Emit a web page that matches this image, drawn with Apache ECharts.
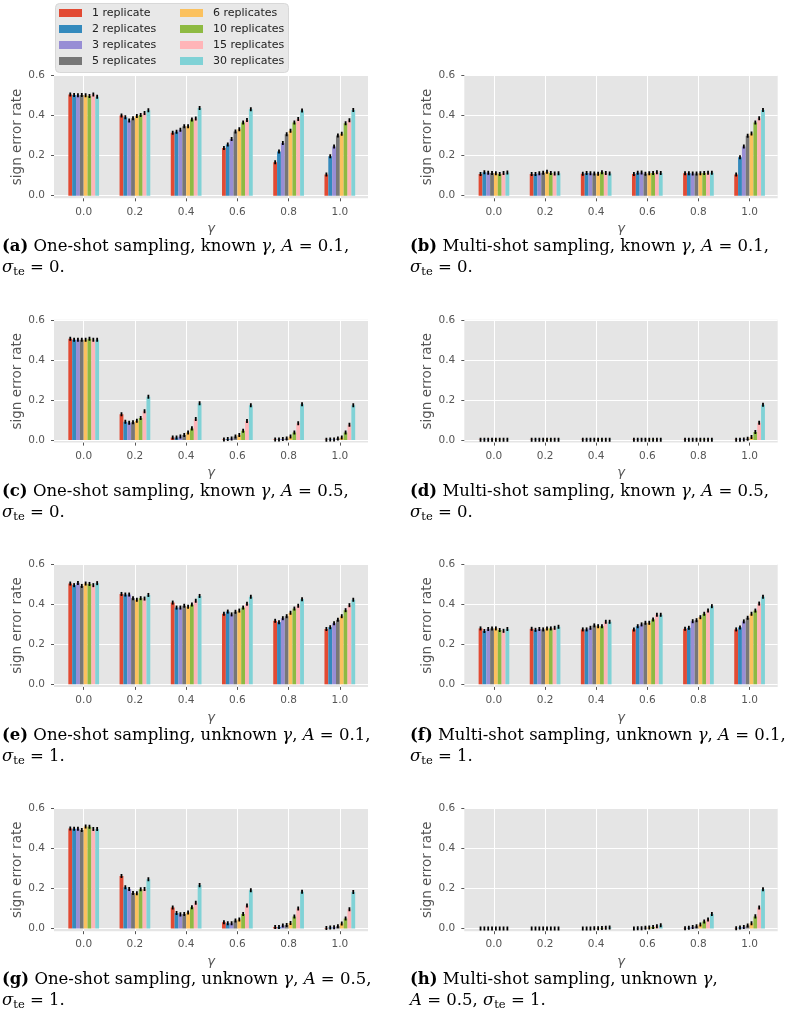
<!DOCTYPE html>
<html><head><meta charset="utf-8">
<script src="https://cdn.jsdelivr.net/npm/echarts@6/dist/echarts.min.js"></script>
<style>html,body{margin:0;padding:0;background:#fff}#c{width:794px;height:1023px}</style>
</head><body><div id="c"></div>
<script>
const gammas = [0.0, 0.2, 0.4, 0.6, 0.8, 1.0];
const replicateLabels = ['1 replicate','2 replicates','3 replicates','5 replicates','6 replicates','10 replicates','15 replicates','30 replicates'];
const xTicks = [0.0, 0.2, 0.4, 0.6, 0.8, 1.0];
const yTicks = [0.0, 0.2, 0.4, 0.6];
const errHalf = 0.01;

// each panel: one row per gamma, 8 values (replicates 1,2,3,5,6,10,15,30)
const dataA = [
  [0.505,0.503,0.502,0.503,0.502,0.498,0.505,0.494],
  [0.400,0.392,0.375,0.387,0.398,0.403,0.413,0.426],
  [0.314,0.319,0.329,0.347,0.347,0.380,0.385,0.438],
  [0.238,0.256,0.283,0.320,0.332,0.365,0.378,0.431],
  [0.167,0.221,0.263,0.307,0.324,0.365,0.383,0.425],
  [0.106,0.197,0.246,0.300,0.309,0.362,0.377,0.428]];
const dataB = [
  [0.108,0.117,0.114,0.113,0.112,0.108,0.113,0.116],
  [0.108,0.108,0.112,0.114,0.119,0.113,0.111,0.112],
  [0.109,0.113,0.112,0.111,0.109,0.117,0.113,0.111],
  [0.108,0.115,0.116,0.109,0.112,0.113,0.117,0.113],
  [0.112,0.112,0.111,0.111,0.112,0.113,0.114,0.114],
  [0.106,0.192,0.246,0.299,0.310,0.365,0.387,0.428]];
const dataC = [
  [0.505,0.500,0.500,0.500,0.500,0.505,0.500,0.500],
  [0.128,0.091,0.086,0.088,0.096,0.110,0.144,0.216],
  [0.013,0.013,0.017,0.025,0.037,0.058,0.105,0.183],
  [0.003,0.005,0.008,0.017,0.025,0.046,0.095,0.174],
  [0.002,0.003,0.005,0.008,0.017,0.038,0.083,0.178],
  [0.001,0.002,0.003,0.008,0.013,0.038,0.076,0.173]];
const dataD = [
  [0.001,0.001,0.001,0.001,0.001,0.001,0.001,0.001],
  [0.001,0.001,0.001,0.001,0.001,0.001,0.001,0.001],
  [0.001,0.001,0.001,0.001,0.001,0.001,0.001,0.001],
  [0.001,0.001,0.001,0.001,0.001,0.001,0.001,0.001],
  [0.001,0.001,0.001,0.001,0.001,0.001,0.001,0.001],
  [0.001,0.001,0.002,0.006,0.015,0.040,0.086,0.176]];
const dataE = [
  [0.503,0.495,0.506,0.491,0.503,0.501,0.495,0.505],
  [0.451,0.448,0.448,0.430,0.422,0.430,0.428,0.446],
  [0.408,0.383,0.383,0.392,0.387,0.398,0.417,0.441],
  [0.352,0.363,0.349,0.362,0.368,0.383,0.402,0.437],
  [0.317,0.310,0.330,0.340,0.357,0.378,0.392,0.425],
  [0.276,0.285,0.305,0.322,0.340,0.370,0.395,0.422]];
const dataF = [
  [0.279,0.266,0.276,0.279,0.279,0.271,0.267,0.276],
  [0.277,0.272,0.276,0.274,0.279,0.279,0.282,0.287],
  [0.274,0.274,0.282,0.294,0.290,0.290,0.312,0.312],
  [0.274,0.290,0.299,0.307,0.307,0.324,0.347,0.347],
  [0.277,0.282,0.315,0.320,0.335,0.352,0.368,0.390],
  [0.274,0.284,0.314,0.332,0.352,0.368,0.403,0.437]];
const dataG = [
  [0.500,0.498,0.498,0.492,0.510,0.508,0.497,0.497],
  [0.262,0.206,0.198,0.178,0.176,0.196,0.198,0.246],
  [0.105,0.078,0.071,0.073,0.080,0.106,0.129,0.217],
  [0.032,0.027,0.027,0.041,0.046,0.073,0.115,0.191],
  [0.008,0.008,0.015,0.018,0.028,0.060,0.100,0.184],
  [0.003,0.005,0.007,0.012,0.025,0.051,0.096,0.183]];
const dataH = [
  [0.001,0.001,0.001,0.001,0.001,0.001,0.001,0.001],
  [0.001,0.001,0.001,0.001,0.001,0.001,0.001,0.001],
  [0.001,0.001,0.001,0.002,0.002,0.003,0.004,0.006],
  [0.001,0.002,0.002,0.004,0.006,0.008,0.012,0.017],
  [0.002,0.004,0.008,0.012,0.020,0.035,0.046,0.073],
  [0.002,0.005,0.008,0.015,0.027,0.061,0.105,0.197]];

const panels = [dataA, dataB, dataC, dataD, dataE, dataF, dataG, dataH];
const captions = [
  ['{b|(a)}{n| One-shot sampling, known }{i|γ}{n|, }{i|A}{n| = 0.1,}', '{i|σ}{s|te}{n| = 0.}'],
  ['{b|(b)}{n| Multi-shot sampling, known }{i|γ}{n|, }{i|A}{n| = 0.1,}', '{i|σ}{s|te}{n| = 0.}'],
  ['{b|(c)}{n| One-shot sampling, known }{i|γ}{n|, }{i|A}{n| = 0.5,}', '{i|σ}{s|te}{n| = 0.}'],
  ['{b|(d)}{n| Multi-shot sampling, known }{i|γ}{n|, }{i|A}{n| = 0.5,}', '{i|σ}{s|te}{n| = 0.}'],
  ['{b|(e)}{n| One-shot sampling, unknown }{i|γ}{n|, }{i|A}{n| = 0.1,}', '{i|σ}{s|te}{n| = 1.}'],
  ['{b|(f)}{n| Multi-shot sampling, unknown }{i|γ}{n|, }{i|A}{n| = 0.1,}', '{i|σ}{s|te}{n| = 1.}'],
  ['{b|(g)}{n| One-shot sampling, unknown }{i|γ}{n|, }{i|A}{n| = 0.5,}', '{i|σ}{s|te}{n| = 1.}'],
  ['{b|(h)}{n| Multi-shot sampling, unknown }{i|γ}{n|,}', '{i|A}{n| = 0.5, }{i|σ}{s|te}{n| = 1.}']];

const colors = ['#E24A33','#348ABD','#988ED5','#777777','#FBC15E','#8EBA42','#FFB5B8','#80D2D6'];
const barW = 0.015;
const rowStep = 244.3;
const SANS = 'DejaVu Sans';
const SERIF = 'DejaVu Serif';

function renderBar(params, api) {
  const x = api.value(0), y = api.value(1), e = api.value(2);
  const a = api.coord([x - barW / 2, 0]);
  const b = api.coord([x + barW / 2, y]);
  const lo = api.coord([x, y - e]);
  const hi = api.coord([x, y + e]);
  return {
    type: 'group',
    children: [
      {type: 'rect', shape: {x: a[0], y: b[1], width: b[0] - a[0], height: a[1] - b[1]},
       style: {fill: api.visual('color')}},
      {type: 'line', shape: {x1: lo[0], y1: lo[1], x2: hi[0], y2: hi[1]},
       style: {stroke: '#000', lineWidth: 1.8}, z2: 10}
    ]
  };
}

const grids = [], xAxes = [], yAxes = [], series = [], graphics = [];
const FS = 16.5;
const rich = {
  b: {fontFamily: SERIF, fontSize: FS, fontWeight: 'bold', fill: '#000', lineHeight: 21},
  n: {fontFamily: SERIF, fontSize: FS, fill: '#000', lineHeight: 21},
  i: {fontFamily: SERIF, fontSize: FS, fontStyle: 'italic', fill: '#000', lineHeight: 21},
  s: {fontFamily: SERIF, fontSize: 11.5, fill: '#000', lineHeight: 12, verticalAlign: 'bottom'}
};

panels.forEach((pd, p) => {
  const col = p % 2, row = Math.floor(p / 2);
  grids.push({
    left: col ? 464.3 : 54, width: col ? 313.4 : 314,
    top: 75.5 + row * rowStep, height: 122.8,
    show: true, backgroundColor: '#E5E5E5', borderWidth: 0
  });
  xAxes.push({
    type: 'value', gridIndex: p, min: -0.116, max: 1.11,
    axisLine: {show: false, onZero: false},
    axisTick: {show: true, length: 3, customValues: xTicks, lineStyle: {color: '#555', width: 1}},
    axisLabel: {customValues: xTicks, formatter: v => Number(v).toFixed(1), fontSize: 10.5,
      fontFamily: SANS, color: '#555', margin: 8},
    splitLine: {show: true, lineStyle: {color: '#fff', width: 1}},
    name: 'γ', nameLocation: 'middle', nameGap: 24,
    nameTextStyle: {fontFamily: SANS, fontSize: 13, color: '#555', fontStyle: 'italic'}
  });
  yAxes.push({
    type: 'value', gridIndex: p, min: -0.013, max: 0.6,
    axisLine: {show: false, onZero: false},
    axisTick: {show: true, length: 3, customValues: yTicks, lineStyle: {color: '#555', width: 1}},
    axisLabel: {customValues: yTicks, formatter: v => Number(v).toFixed(1), fontSize: 10.5,
      fontFamily: SANS, color: '#555', margin: 9},
    splitLine: {show: true, lineStyle: {color: '#fff', width: 1}},
    name: 'sign error rate', nameLocation: 'middle', nameGap: 26,
    nameTextStyle: {fontFamily: SANS, fontSize: 13.5, color: '#555'}
  });
  replicateLabels.forEach((name, r) => {
    series.push({
      type: 'custom', name: name, xAxisIndex: p, yAxisIndex: p,
      itemStyle: {color: colors[r]},
      renderItem: renderBar, clip: true,
      encode: {x: 0, y: 1},
      data: gammas.map((g, gi) => [g + (r - 3.5) * barW, pd[gi][r], errHalf])
    });
  });
  const cx = col ? 410 : 2;
  graphics.push({type: 'text', left: cx, top: 238.5 + row * rowStep,
    style: {text: captions[p][0], rich: rich, fill: '#000'}});
  graphics.push({type: 'text', left: cx, top: 259.5 + row * rowStep,
    style: {text: captions[p][1], rich: rich, fill: '#000'}});
});

graphics.push({type: 'rect', left: 55, top: 3, z: -1,
  shape: {width: 233, height: 69, r: 4},
  style: {fill: '#E8E8E8', stroke: '#D8D8D8', lineWidth: 1}});

const legendBase = {
  orient: 'vertical', top: 7.5, itemWidth: 23, itemHeight: 8, itemGap: 5, padding: 0,
  icon: 'rect', selectedMode: false,
  textStyle: {fontFamily: SANS, fontSize: 11, color: '#222', padding: [0, 0, 0, 5]}
};

const chart = echarts.init(document.getElementById('c'), null, {renderer: 'canvas'});
chart.setOption({
  animation: false,
  backgroundColor: '#fff',
  grid: grids, xAxis: xAxes, yAxis: yAxes, series: series,
  legend: [
    Object.assign({}, legendBase, {left: 59, data: replicateLabels.slice(0, 4)}),
    Object.assign({}, legendBase, {left: 180, data: replicateLabels.slice(4)})
  ],
  graphic: graphics
});
</script></body></html>
